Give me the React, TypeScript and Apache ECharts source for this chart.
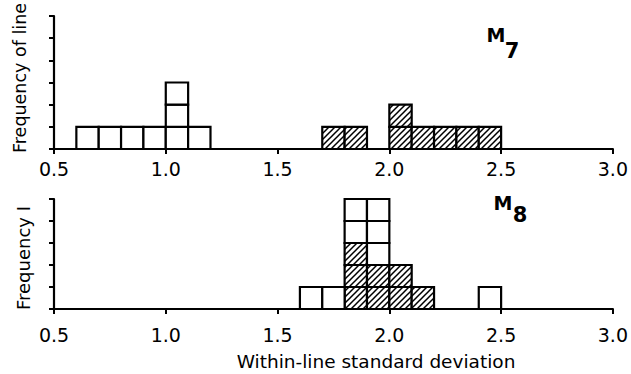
import React, { useEffect, useRef } from "react";
import * as echarts from "echarts";

const xTickLabels = ["0.5", "1.0", "1.5", "2.0", "2.5", "3.0"];
const binWidth = 0.1;

// Panel M7
const m7OpenBins = [0.6, 0.7, 0.8, 0.9, 1.0, 1.1];
const m7OpenCounts = [1, 1, 1, 1, 3, 1];
const m7HatchBins = [1.7, 1.8, 2.0, 2.1, 2.2, 2.3, 2.4];
const m7HatchCounts = [1, 1, 2, 1, 1, 1, 1];

// Panel M8 (hatched cells at bottom, open cells stacked above)
const m8HatchBins = [1.8, 1.9, 2.0, 2.1];
const m8HatchCounts = [3, 2, 2, 1];
const m8OpenBins = [1.6, 1.7, 1.8, 1.9, 2.4];
const m8OpenCounts = [1, 1, 2, 3, 1];

function buildCells(
  hatchBins: number[],
  hatchCounts: number[],
  openBins: number[],
  openCounts: number[]
) {
  const cells: number[][] = [];
  const base: Record<string, number> = {};
  hatchBins.forEach((b, i) => {
    const k = b.toFixed(1);
    for (let j = 0; j < hatchCounts[i]; j++) {
      cells.push([b, b + binWidth, j, j + 1, 1]);
    }
    base[k] = (base[k] || 0) + hatchCounts[i];
  });
  openBins.forEach((b, i) => {
    const k = b.toFixed(1);
    const s = base[k] || 0;
    for (let j = 0; j < openCounts[i]; j++) {
      cells.push([b, b + binWidth, s + j, s + j + 1, 0]);
    }
  });
  return cells;
}

function makeHatch() {
  const c = document.createElement("canvas");
  const n = 6;
  c.width = n;
  c.height = n;
  const ctx = c.getContext("2d")!;
  ctx.fillStyle = "#fff";
  ctx.fillRect(0, 0, n, n);
  ctx.strokeStyle = "#000";
  ctx.lineWidth = 1.5;
  ctx.beginPath();
  ctx.moveTo(-1, n + 1);
  ctx.lineTo(n + 1, -1);
  ctx.moveTo(-2, 2);
  ctx.lineTo(2, -2);
  ctx.moveTo(n - 2, n + 2);
  ctx.lineTo(n + 2, n - 2);
  ctx.stroke();
  return c;
}

const FONT = "DejaVu Sans";

export default function App() {
  const ref = useRef<HTMLDivElement>(null);
  useEffect(() => {
    if (!ref.current) return;
    const chart = echarts.init(ref.current, undefined, { renderer: "svg" });
    const hatch = { image: makeHatch(), repeat: "repeat" };

    const renderItem = (params: any, api: any) => {
      const x0 = api.value(0);
      const x1 = api.value(1);
      const y0 = api.value(2);
      const y1 = api.value(3);
      const h = api.value(4);
      const p0 = api.coord([x0, y1]);
      const p1 = api.coord([x1, y0]);
      return {
        type: "rect",
        shape: { x: p0[0], y: p0[1], width: p1[0] - p0[0], height: p1[1] - p0[1] },
        style: { fill: h ? hatch : "#fff", stroke: "#000", lineWidth: 2.2 },
      };
    };

    const xAxisBase = (gridIndex: number, margin: number) => ({
      gridIndex,
      type: "value",
      min: 0.5,
      max: 3.0,
      interval: 0.5,
      axisLine: { show: true, onZero: false, lineStyle: { color: "#000", width: 2.2 } },
      axisTick: { show: true, length: 5, lineStyle: { color: "#000", width: 2 } },
      axisLabel: {
        show: true,
        color: "#000",
        fontSize: 19,
        fontFamily: FONT,
        margin,
        formatter: (v: number) => {
          const idx = Math.round((v - 0.5) / 0.5);
          return xTickLabels[idx] ?? "";
        },
      },
      splitLine: { show: false },
    });

    const yAxisBase = (gridIndex: number, max: number) => ({
      gridIndex,
      type: "value",
      min: 0,
      max,
      interval: 1,
      axisLine: { show: true, onZero: false, lineStyle: { color: "#000", width: 2.2 } },
      axisTick: { show: true, length: 5, lineStyle: { color: "#000", width: 2 } },
      axisLabel: { show: false },
      splitLine: { show: false },
    });

    chart.setOption({
      animation: false,
      backgroundColor: "#fff",
      grid: [
        { left: 54, top: 16, width: 560, height: 133 },
        { left: 54, top: 199, width: 560, height: 110 },
      ],
      xAxis: [xAxisBase(0, 10), xAxisBase(1, 16)],
      yAxis: [yAxisBase(0, 6), yAxisBase(1, 5)],
      series: [
        {
          type: "custom",
          xAxisIndex: 0,
          yAxisIndex: 0,
          renderItem,
          encode: { x: [0, 1], y: [2, 3] },
          data: buildCells(m7HatchBins, m7HatchCounts, m7OpenBins, m7OpenCounts),
        },
        {
          type: "custom",
          xAxisIndex: 1,
          yAxisIndex: 1,
          renderItem,
          encode: { x: [0, 1], y: [2, 3] },
          data: buildCells(m8HatchBins, m8HatchCounts, m8OpenBins, m8OpenCounts),
        },
      ],
      graphic: [
        {
          type: "text",
          x: 20,
          y: 78,
          rotation: Math.PI / 2,
          style: {
            text: "Frequency of line",
            fill: "#000",
            font: `17.5px '${FONT}'`,
            align: "center",
            verticalAlign: "middle",
          },
        },
        {
          type: "text",
          x: 23,
          y: 258,
          rotation: Math.PI / 2,
          style: {
            text: "Frequency I",
            fill: "#000",
            font: `18px '${FONT}'`,
            align: "center",
            verticalAlign: "middle",
          },
        },
        {
          type: "text",
          x: 376,
          y: 361,
          style: {
            text: "Within-line standard deviation",
            fill: "#000",
            font: `18.5px '${FONT}'`,
            align: "center",
            verticalAlign: "middle",
          },
        },
        {
          type: "text",
          x: 496,
          y: 35,
          style: { text: "M", fill: "#000", font: `bold 19px '${FONT}'`, align: "center", verticalAlign: "middle" },
        },
        {
          type: "text",
          x: 512,
          y: 51,
          style: { text: "7", fill: "#000", font: `bold 21px '${FONT}'`, align: "center", verticalAlign: "middle" },
        },
        {
          type: "text",
          x: 503,
          y: 203,
          style: { text: "M", fill: "#000", font: `bold 19px '${FONT}'`, align: "center", verticalAlign: "middle" },
        },
        {
          type: "text",
          x: 520,
          y: 215,
          style: { text: "8", fill: "#000", font: `bold 21px '${FONT}'`, align: "center", verticalAlign: "middle" },
        },
      ],
    });
    return () => chart.dispose();
  }, []);
  return (
    <div
      ref={ref}
      style={{ position: "absolute", left: 0, top: 0, width: 631, height: 374, background: "#fff" }}
    />
  );
}
